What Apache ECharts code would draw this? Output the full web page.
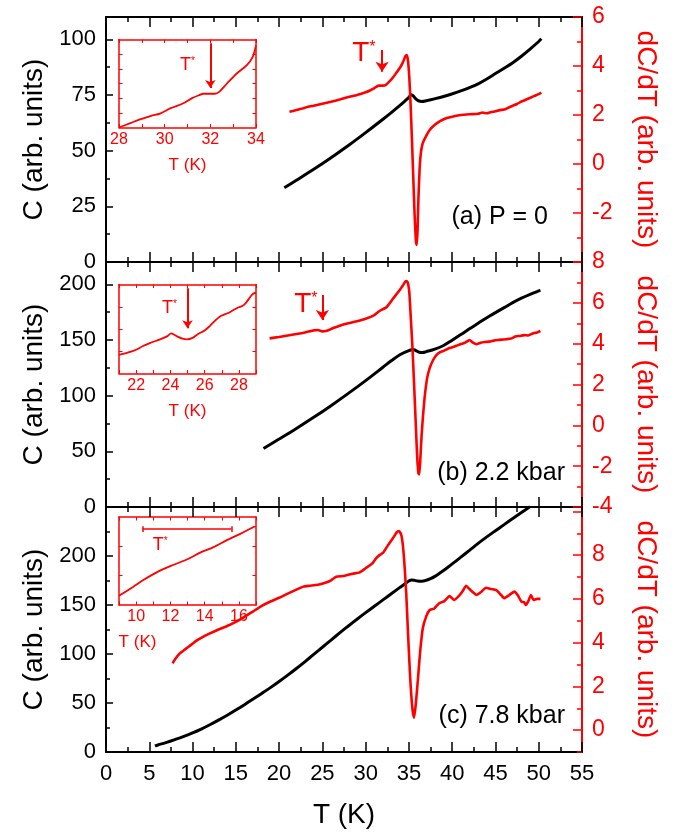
<!DOCTYPE html>
<html><head><meta charset="utf-8">
<script src="https://cdn.jsdelivr.net/npm/echarts@6/dist/echarts.min.js"></script>
<style>html,body{margin:0;padding:0;background:#fff}#c{width:677px;height:838px}</style>
</head><body><div id="c"></div><script>
const FONT = "'Liberation Sans', Arial, Helvetica, sans-serif";
const RED = '#ff0000';
const BLACK = '#000000';

// ---------- data: panel (a) P = 0 ----------
const C_a = [[20.6,33.3],[22,36.7],[24,41.6],[26,46.8],[28,52.3],[30,58.1],[32,64.1],[33,67.2],[34,70.4],[34.5,72.1],[35,73.9],[35.3,75.1],[35.5,74.6],[35.8,73.2],[36.1,72.4],[36.5,72.1],[37,72.4],[38,73.3],[39,74.3],[40,75.5],[41,76.8],[42,78.3],[43,80],[44,82.2],[45,84.6],[46,87],[47,89.5],[48,92.4],[49,95.6],[50,99],[50.3,100.2]];
const dC_a = [[21.2,2.13],[22,2.2],[23,2.3],[24,2.38],[25,2.46],[26,2.54],[27,2.63],[28,2.73],[29,2.82],[30,2.93],[30.5,3.0],[31,3.1],[31.5,3.2],[32,3.2],[32.3,3.22],[32.7,3.35],[33.2,3.55],[33.6,3.75],[34,3.95],[34.3,4.15],[34.6,4.4],[34.75,4.45],[34.9,4.2],[35.05,3.5],[35.2,2.4],[35.35,1.0],[35.5,-0.5],[35.65,-2.0],[35.8,-3.1],[35.9,-3.3],[36.0,-2.7],[36.1,-1.4],[36.25,-0.1],[36.4,0.5],[36.6,0.85],[37,1.15],[37.4,1.39],[38,1.6],[38.6,1.75],[39.3,1.87],[40,1.93],[41,2.0],[42,2.03],[43,2.05],[43.5,2.1],[44,2.07],[44.5,2.12],[45,2.15],[45.5,2.2],[46,2.22],[46.5,2.3],[47,2.38],[47.5,2.45],[48,2.55],[48.5,2.62],[49,2.7],[49.5,2.78],[50,2.85],[50.3,2.91]];
const inset_a = [[28,2.6],[28.5,2.66],[28.92,2.71],[29.4,2.76],[29.8,2.79],[30.24,2.86],[30.82,2.93],[31.2,3.0],[31.5,3.04],[31.7,3.06],[32.0,3.06],[32.2,3.06],[32.4,3.09],[32.73,3.2],[33.17,3.34],[33.6,3.45],[33.85,3.56],[34,3.72]];

// ---------- data: panel (b) 2.2 kbar ----------
const C_b = [[18.2,52.6],[20,61],[22,70.5],[24,80.5],[26,91],[28,102],[30,113.5],[32,125.5],[33,131.5],[34,137],[35,140.5],[35.5,141.5],[35.8,140.5],[36.2,139],[36.6,138.7],[37,139.5],[38,141.8],[39,145],[40,149.8],[41,154.8],[42,160],[43,165],[44,170],[45,174.5],[46,179],[47,183.5],[48,187.5],[49,191],[50,194],[50.2,194.5]];
const dC_b = [[18.9,4.26],[20,4.33],[21,4.4],[22,4.47],[23,4.55],[24,4.65],[24.5,4.67],[25,4.6],[25.5,4.63],[26,4.72],[27,4.88],[28,5.0],[29,5.1],[30,5.22],[31,5.4],[31.6,5.6],[32.4,5.78],[33.15,6.2],[33.9,6.6],[34.3,6.85],[34.6,7.05],[34.75,7.07],[34.9,6.95],[35.05,6.5],[35.2,5.4],[35.4,3.9],[35.6,2.0],[35.8,0.0],[35.95,-1.5],[36.1,-2.35],[36.2,-2.4],[36.3,-1.8],[36.45,-0.6],[36.6,0.3],[36.8,1.3],[37.1,2.3],[37.4,2.8],[37.8,3.2],[38.2,3.45],[38.6,3.58],[39,3.65],[39.5,3.75],[40,3.82],[40.5,3.9],[41,3.98],[41.5,4.05],[42,4.18],[42.4,4.05],[42.8,3.97],[43.3,4.05],[43.8,4.08],[44.3,4.1],[44.8,4.15],[45.3,4.18],[45.8,4.2],[46.3,4.22],[46.8,4.25],[47.3,4.35],[47.8,4.38],[48.3,4.42],[48.8,4.4],[49.3,4.5],[49.8,4.55],[50.2,4.62]];
const inset_b = [[21,4.45],[21.5,4.48],[22,4.52],[22.4,4.57],[22.8,4.61],[23.4,4.66],[23.8,4.7],[24.05,4.74],[24.4,4.7],[24.7,4.67],[24.96,4.66],[25.3,4.68],[25.6,4.73],[26,4.78],[26.3,4.84],[26.6,4.91],[26.9,4.97],[27.2,5.0],[27.5,5.03],[27.95,5.09],[28.2,5.11],[28.4,5.15],[28.8,5.27],[29,5.29]];

// ---------- data: panel (c) 7.8 kbar ----------
const C_c = [[5.65,6.2],[6,7.2],[7,9.8],[8,12.8],[9,16],[10,19.5],[11,23.4],[12,27.8],[13,32.5],[14,37.5],[15,42.8],[16,48.3],[17,54],[18,59.8],[19,65.7],[20,71.9],[21,78.4],[22,85.2],[23,92.3],[24,99.6],[25,106.9],[26,114.2],[27,121.5],[28,128.6],[29,135.5],[30,142.2],[31,148.7],[32,155.2],[33,161.7],[34,168.2],[34.6,172],[35,174.5],[35.3,175.5],[35.6,175.2],[36,174.5],[36.5,174.3],[37,175.2],[37.5,176.8],[38,179.2],[38.5,182.1],[39,185.2],[39.5,188.5],[40,191.9],[41,198.8],[42,205.8],[43,212.9],[44,219.5],[45,225.8],[46,232],[47,238.2],[48,244.3],[49,250.5]];
const dC_c = [[7.7,3.05],[8,3.25],[8.5,3.5],[9,3.65],[9.5,3.8],[10,3.95],[10.5,4.1],[11,4.22],[12,4.42],[13,4.6],[14,4.76],[15,4.95],[16,5.18],[17,5.43],[18,5.68],[19,5.88],[20,6.05],[21,6.24],[22,6.42],[22.8,6.56],[23.5,6.6],[24.5,6.65],[25.5,6.76],[26,6.85],[26.6,7.01],[27.5,7.05],[28.5,7.15],[29.3,7.21],[30,7.4],[30.8,7.63],[31.2,7.85],[31.6,8.0],[32,8.1],[32.5,8.4],[33.15,8.77],[33.6,9.05],[33.85,9.1],[34.1,8.95],[34.3,8.46],[34.5,7.5],[34.7,6.18],[34.9,4.4],[35.15,2.37],[35.4,1.0],[35.6,0.57],[35.8,1.2],[36.05,2.37],[36.3,3.6],[36.6,4.65],[37,5.2],[37.4,5.49],[37.9,5.55],[38.5,5.8],[39.1,5.9],[39.7,6.13],[40.2,5.95],[40.7,6.1],[41.2,6.35],[41.6,6.6],[42,6.45],[42.4,6.3],[42.8,6.18],[43.3,6.3],[43.9,6.51],[44.5,6.45],[45.1,6.4],[45.6,6.2],[46,6.03],[46.5,6.15],[47.2,6.33],[47.6,6.15],[48,5.87],[48.3,5.85],[48.5,5.72],[48.8,5.9],[49.1,6.18],[49.4,5.95],[49.8,6.0],[50.2,6.0]];
const inset_c = [[9,3.45],[9.84,3.7],[10.42,3.88],[11.2,4.09],[11.99,4.26],[12.96,4.44],[13.74,4.63],[14.52,4.78],[15.3,4.97],[16.08,5.14],[17,5.36]];

// ---------- T* annotations ----------
const tStarArrowMain = [[31.9, 4.65, 3.77], [25.0, 6.38, 5.16]];   // [T, from, to]
const tStarTextMain = [[29.8, 4.5], [23.1, 5.93]];
const tStarArrowInset = [[32.0, 3.75, 3.14], [25.0, 5.35, 4.81]];
const tStarTextInset = [[31.0, 3.45], [23.95, 5.08], [11.4, 4.83]];
const tStarRangeC = [10.37, 15.56, 5.27];

// ---------- axes: tick values ----------
const xMain = [0, 55, 5];
const leftRange = [[0,110],[0,220],[0,250]];
const leftMajor = [[0,25,50,75,100],[0,50,100,150,200],[0,50,100,150,200,250]];
const leftLabels = [[0,25,50,75,100],[0,50,100,150,200],[0,50,100,150,200]];
const leftMinor = [[12.5,37.5,62.5,87.5],[25,75,125,175],[25,75,125,175,225]];
const rightRange = [[-4,6],[-4,8],[-1,10.2]];
const rightMajor = [[-4,-2,0,2,4,6],[-4,-2,0,2,4,6,8],[0,2,4,6,8,10]];
const rightLabels = [[-2,0,2,4,6],[-4,-2,0,2,4,6,8],[0,2,4,6,8]];
const rightMinor = [[-3,-1,1,3,5],[-3,-1,1,3,5,7],[-1,1,3,5,7,9]];
const insetXRange = [[28,34],[21,29],[9,17]];
const insetXLabels = [[28,30,32,34],[22,24,26,28],[10,12,14,16]];
const insetXTicks = [[28,29,30,31,32,33,34],[21,22,23,24,25,26,27,28,29],[9,10,11,12,13,14,15,16,17]];
const insetYRange = [[2.6,3.8],[4.2,5.4],[3.2,5.6]];
const insetYTicks = [[2.8,3.0,3.2,3.4,3.6],[4.5,4.8,5.1],[4.0,4.8]];
const panelLabels = ['(a) P = 0', '(b) 2.2 kbar', '(c) 7.8 kbar'];

// ---------- layout ----------
const mainGrids = [
  {left:106, top:17, width:476, height:245},
  {left:106, top:262, width:476, height:245},
  {left:106, top:507, width:476, height:245}
];
const insetGrids = [
  {left:119, top:39.5, width:137, height:88},
  {left:119, top:284.5, width:137, height:89},
  {left:119, top:517, width:137, height:88}
];

const txt = (size, color) => ({fontSize:size, color:color, fontFamily:FONT});

const xAxes = [];
for (let g = 0; g < 3; g++) {
  for (const bottom of [true, false]) {
    const lab = (g === 2 && bottom);
    xAxes.push({
      type:'value', gridIndex:g, position: bottom ? 'bottom' : 'top',
      min:xMain[0], max:xMain[1], interval:xMain[2],
      axisLine:{show:true, onZero:false, lineStyle:{color:BLACK, width:2}},
      axisTick:{show:true, inside:true, length:10, lineStyle:{color:BLACK, width:1.5}},
      minorTick:{show:true, splitNumber:2, length:5, lineStyle:{color:BLACK, width:1.5}},
      splitLine:{show:false}, minorSplitLine:{show:false},
      axisLabel:Object.assign({show:lab, margin:11}, txt(22, BLACK)),
      name: lab ? 'T (K)' : '', nameLocation:'middle', nameGap:49,
      nameTextStyle: txt(28, BLACK)
    });
  }
}
for (let k = 0; k < 3; k++) {
  for (const bottom of [true, false]) {
    xAxes.push({
      type:'value', gridIndex:3 + k, position: bottom ? 'bottom' : 'top',
      min:insetXRange[k][0], max:insetXRange[k][1],
      axisLine:{show:true, onZero:false, lineStyle:{color:RED, width:1.5}},
      axisTick:{show:true, inside:true, length:3.5, customValues:insetXTicks[k], lineStyle:{color:RED, width:1}},
      splitLine:{show:false},
      axisLabel:Object.assign({show:bottom, margin:4, customValues:insetXLabels[k]}, txt(16, RED)),
      name: bottom ? 'T (K)' : '', nameLocation:'middle', nameGap:29,
      nameTextStyle: Object.assign(k === 2 ? {padding:[0,100,0,0]} : {}, txt(17, RED))
    });
  }
}

const yAxes = [];
for (let g = 0; g < 3; g++) {
  yAxes.push({
    type:'value', gridIndex:g, position:'left', min:leftRange[g][0], max:leftRange[g][1],
    axisLine:{show:true, onZero:false, lineStyle:{color:BLACK, width:2}},
    axisTick:{show:true, inside:true, length:7, customValues:leftMajor[g], lineStyle:{color:BLACK, width:1.5}},
    splitLine:{show:false},
    axisLabel:Object.assign({show:true, margin:10, customValues:leftLabels[g]}, txt(22, BLACK)),
    name:'C (arb. units)', nameLocation:'middle', nameGap:50, nameTextStyle: txt(28, BLACK)
  });
  yAxes.push({
    type:'value', gridIndex:g, position:'left', min:leftRange[g][0], max:leftRange[g][1],
    axisLine:{show:false, onZero:false},
    axisTick:{show:true, inside:true, length:4, customValues:leftMinor[g], lineStyle:{color:BLACK, width:1.5}},
    splitLine:{show:false}, axisLabel:{show:false}
  });
  yAxes.push({
    type:'value', gridIndex:g, position:'right', min:rightRange[g][0], max:rightRange[g][1],
    axisLine:{show:true, onZero:false, lineStyle:{color:RED, width:2}},
    axisTick:{show:true, inside:true, length:9, customValues:rightMajor[g], lineStyle:{color:RED, width:1.5}},
    splitLine:{show:false},
    axisLabel:Object.assign({show:true, margin:10, customValues:rightLabels[g]}, txt(23, RED)),
    name:'dC/dT (arb. units)', nameLocation:'middle', nameRotate:-90, nameGap:50, nameTextStyle: txt(28, RED)
  });
  yAxes.push({
    type:'value', gridIndex:g, position:'right', min:rightRange[g][0], max:rightRange[g][1],
    axisLine:{show:false, onZero:false},
    axisTick:{show:true, inside:true, length:5, customValues:rightMinor[g], lineStyle:{color:RED, width:1.5}},
    splitLine:{show:false}, axisLabel:{show:false}
  });
}
for (let k = 0; k < 3; k++) {
  for (const pos of ['left', 'right']) {
    yAxes.push({
      type:'value', gridIndex:3 + k, position:pos, min:insetYRange[k][0], max:insetYRange[k][1],
      axisLine:{show:true, onZero:false, lineStyle:{color:RED, width:1.5}},
      axisTick:{show:true, inside:true, length:3.5, customValues:insetYTicks[k], lineStyle:{color:RED, width:1}},
      splitLine:{show:false}, axisLabel:{show:false}
    });
  }
}

function starLabel(coord, big, small) {
  return {
    coord: coord, symbol:'rect', symbolSize:1, itemStyle:{color:'rgba(0,0,0,0)'},
    label:{show:true, position:'inside', formatter:'{t|T}{s|*}',
      rich:{t:{fontSize:big, color:RED, fontFamily:FONT}, s:{fontSize:small, color:RED, fontFamily:FONT, verticalAlign:'top'}}}
  };
}
function arrow(a, size) {
  return {
    silent:true, animation:false, symbol:['none','arrow'], symbolSize:size,
    lineStyle:{color:RED, width:2, type:'solid'}, label:{show:false},
    data:[[{coord:[a[0], a[1]]}, {coord:[a[0], a[2]]}]]
  };
}

function lineSeries(x, y, data, color, width, smooth) {
  return {type:'line', xAxisIndex:x, yAxisIndex:y, data:data, showSymbol:false, symbol:'none',
    smooth:smooth, clip:true, lineStyle:{color:color, width:width}, silent:true};
}

const series = [];
const Cs = [C_a, C_b, C_c];
const dCs = [dC_a, dC_b, dC_c];
for (let g = 0; g < 3; g++) {
  series.push(lineSeries(2*g, 4*g, Cs[g], BLACK, 3, 0.35));
  const s = lineSeries(2*g, 4*g + 2, dCs[g], RED, 2.6, 0.15);
  if (g < 2) {
    s.markLine = arrow(tStarArrowMain[g], 10);
    s.markPoint = {silent:true, animation:false, data:[starLabel(tStarTextMain[g], 28, 16)]};
  }
  series.push(s);
}
const insets = [inset_a, inset_b, inset_c];
for (let k = 0; k < 3; k++) {
  const s = lineSeries(6 + 2*k, 12 + 2*k, insets[k], RED, 1.8, 0.3);
  if (k < 2) {
    s.markLine = arrow(tStarArrowInset[k], 8);
  } else {
    const r = tStarRangeC;
    s.markLine = {silent:true, animation:false, symbol:['none','none'],
      lineStyle:{color:RED, width:1.5, type:'solid'}, label:{show:false},
      data:[
        [{coord:[r[0], r[2]]}, {coord:[r[1], r[2]]}],
        [{coord:[r[0], r[2]-0.08]}, {coord:[r[0], r[2]+0.08]}],
        [{coord:[r[1], r[2]-0.08]}, {coord:[r[1], r[2]+0.08]}]
      ]};
  }
  s.markPoint = {silent:true, animation:false, data:[starLabel(tStarTextInset[k], 18, 10)]};
  series.push(s);
}

const labelPos = [[548, 217], [565, 473], [565, 716]];
const graphic = panelLabels.map((t, i) => ({
  type:'text', x:labelPos[i][0], y:labelPos[i][1], silent:true,
  style:{text:t, fill:BLACK, font:'25px ' + FONT, align:'right', verticalAlign:'middle', textAlign:'right', textVerticalAlign:'middle'}
}));

const chart = echarts.init(document.getElementById('c'), null, {renderer:'canvas'});
chart.setOption({
  animation:false,
  backgroundColor:'#ffffff',
  textStyle:{fontFamily:FONT},
  grid: mainGrids.concat(insetGrids).map(g => Object.assign({containLabel:false}, g)),
  xAxis: xAxes,
  yAxis: yAxes,
  series: series,
  graphic: graphic
});
</script></body></html>
